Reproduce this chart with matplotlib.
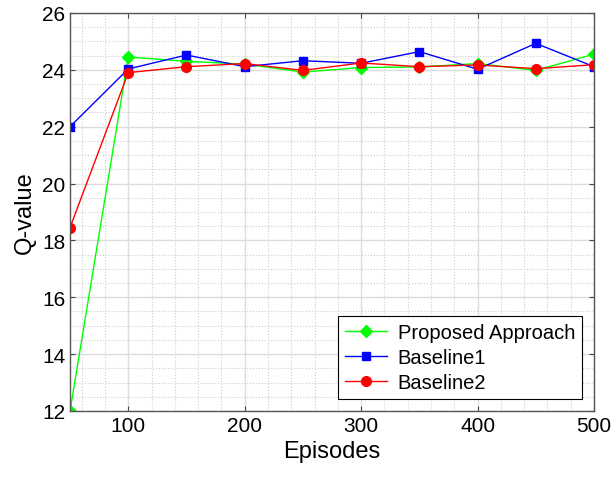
import matplotlib.pyplot as plt
import numpy as np
from matplotlib.ticker import MultipleLocator

plt.rcParams['font.family'] = ['Liberation Sans', 'DejaVu Sans']

episodes = [50, 100, 150, 200, 250, 300, 350, 400, 450, 500]
proposed = [12.0, 24.45, 24.3, 24.2, 23.92, 24.08, 24.1, 24.22, 23.98, 24.55]
baseline1 = [22.0, 24.03, 24.52, 24.11, 24.32, 24.23, 24.64, 24.02, 24.93, 24.11]
baseline2 = [18.45, 23.9, 24.11, 24.22, 23.98, 24.24, 24.11, 24.17, 24.04, 24.18]

fig = plt.figure(figsize=(6.11, 4.81), dpi=100)
ax = fig.add_axes([0.1146, 0.1435, 0.8576, 0.8275])

ax.plot(episodes, proposed, color='#00ff00', marker='D', markersize=6, lw=1, label='Proposed Approach')
ax.plot(episodes, baseline1, color='#0000ff', marker='s', markersize=5.5, lw=1, label='Baseline1')
ax.plot(episodes, baseline2, color='#ff0000', marker='o', markersize=7, lw=1, label='Baseline2')

ax.set_xlim(50, 500)
ax.set_ylim(12, 26)
ax.set_xticks([100, 200, 300, 400, 500])
ax.set_yticks(np.arange(12, 27, 2))
ax.xaxis.set_minor_locator(MultipleLocator(20))
ax.yaxis.set_minor_locator(MultipleLocator(0.5))
ax.grid(which='major', color='#dddddd', lw=1)
ax.grid(which='minor', color='#cccccc', ls=':', lw=0.8)
ax.set_axisbelow(True)
ax.tick_params(which='both', direction='in', top=True, right=True, labelsize=15, color='#444444')
ax.tick_params(which='minor', length=0)
for s in ax.spines.values():
    s.set_color('#555555')
    s.set_linewidth(1)

ax.set_xlabel('Episodes', fontsize=17)
ax.set_ylabel('Q-value', fontsize=17)

leg = ax.legend(loc='lower right', fontsize=14.5, fancybox=False, framealpha=1,
                edgecolor='black', borderaxespad=0.6, handlelength=2.1,
                labelspacing=0.3, borderpad=0.35, handletextpad=0.5)
leg.get_frame().set_linewidth(0.8)

fig.savefig('out.png', dpi=100)
